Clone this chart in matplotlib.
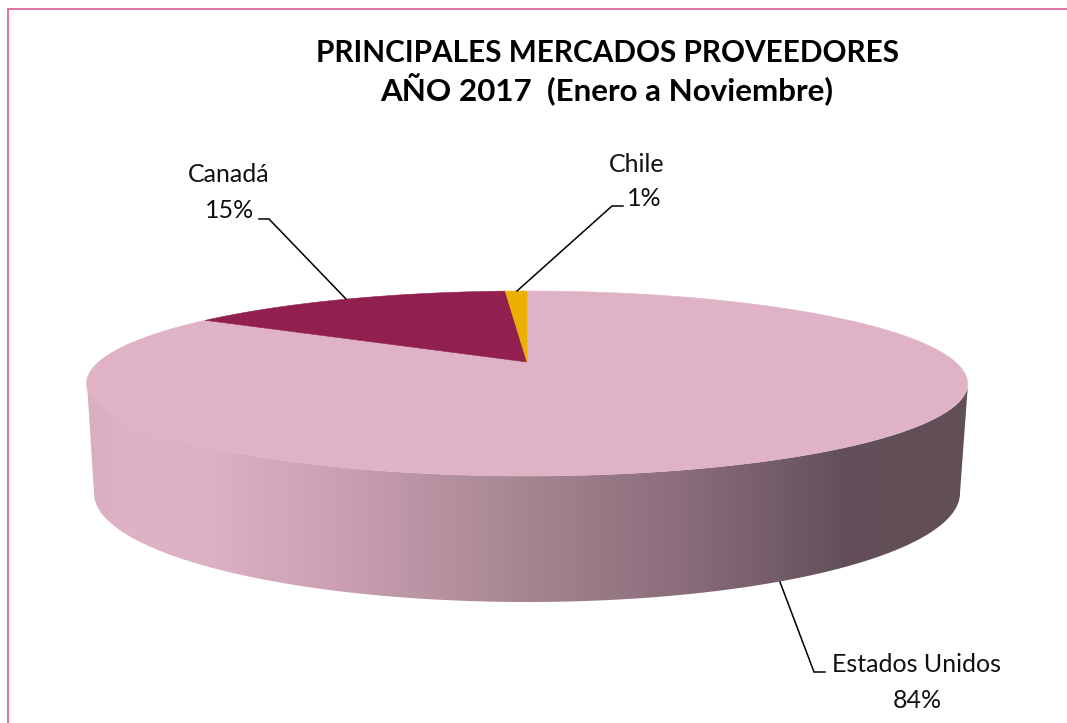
import numpy as np
import matplotlib
matplotlib.use("Agg")
import matplotlib.pyplot as plt
from matplotlib.patches import Polygon
from matplotlib.colors import LinearSegmentedColormap

title_lines = ["PRINCIPALES MERCADOS PROVEEDORES", "AÑO 2017  (Enero a Noviembre)"]
categories = ["Estados Unidos", "Canadá", "Chile"]
values = [84, 15, 1]
pct_labels = ["84%", "15%", "1%"]
colors = ["#DFB2C6", "#91204F", "#EBB000"]

W, H = 1067, 723
fig = plt.figure(figsize=(W / 100, H / 100), dpi=100, facecolor="white")
ax = fig.add_axes([0, 0, 1, 1])
ax.set_xlim(0, W)
ax.set_ylim(H, 0)
ax.axis("off")

FONT = "Lato"
CX, AY, R = 527.0, 362.0, 428.4
C, K = 0.2324, 87.5


def project(theta):
    """Clockwise angle from 12 o'clock on the pie -> perspective picture position."""
    u, v = np.sin(theta), np.cos(theta)
    d = 1 + C * v
    return CX + R * u / d, AY - K * v / d


# wall
t = np.linspace(0, np.pi, 300)
top_x, top_y = 527.5 + 440.5 * np.cos(t), 383.5 + 92.5 * np.sin(t)
bot_x, bot_y = 527 + 433 * np.cos(t), 493 + 109 * np.sin(t)
wall = np.vstack([np.c_[top_x, top_y], np.c_[bot_x, bot_y][::-1]])
patch = Polygon(wall, closed=True, fc="none", ec="none")
ax.add_patch(patch)
stops = [(0.0, "#D9AEC1"), (0.04, "#DFB2C6"), (0.14, "#DDB0C4"), (0.30, "#C89EB0"),
         (0.50, "#A68591"), (0.68, "#8A6C7A"), (0.86, "#63505A"), (1.0, "#624E56")]
cmap = LinearSegmentedColormap.from_list("wall", stops)
grad = np.linspace(0, 1, 512).reshape(1, -1)
im = ax.imshow(grad, cmap=cmap, extent=(87, 968, 610, 375), aspect="auto", zorder=1)
im.set_clip_path(patch)
ax.set_xlim(0, W)
ax.set_ylim(H, 0)

# top face wedges
edges = np.cumsum([0] + values) / np.sum(values) * 2 * np.pi
for i in range(len(values)):
    th = np.linspace(edges[i], edges[i + 1], 400)
    x, y = project(th)
    pts = np.vstack([[CX, AY], np.c_[x, y]])
    ax.add_patch(Polygon(pts, closed=True, fc=colors[i], ec=colors[i], lw=0.4, zorder=2))

# leader lines
leaders = [([780, 814, 825], [582, 672, 672]),
           ([259, 269, 346], [219, 219, 299]),
           ([623, 612, 517], [206, 206, 291])]
for lx, ly in leaders:
    ax.plot(lx, ly, color="black", lw=1.1, zorder=3, solid_joinstyle="miter")

# labels
name_pos = [(917, 665), (229, 175), (637, 165)]
pct_pos = [(917, 701), (230, 210), (644, 198)]
for name, pct, np_, pp in zip(categories, pct_labels, name_pos, pct_pos):
    ax.text(*np_, name, ha="center", va="center", fontsize=18, family=FONT, color="#111111", zorder=4)
    ax.text(*pp, pct, ha="center", va="center", fontsize=18, family=FONT, color="#111111", zorder=4)

# title
ax.text(607, 53, title_lines[0], ha="center", va="center", fontsize=21.4, fontweight="bold", family=FONT, color="black")
ax.text(606.5, 89.5, title_lines[1], ha="center", va="center", fontsize=22.6, fontweight="bold", family=FONT, color="black")

# frame: top and left only visible
ax.plot([7.5, 7.5, W], [H, 8.5, 8.5], color="#E2669A", lw=1.3, zorder=5, solid_joinstyle="miter")

fig.savefig("out.png", dpi=100, facecolor="white")
